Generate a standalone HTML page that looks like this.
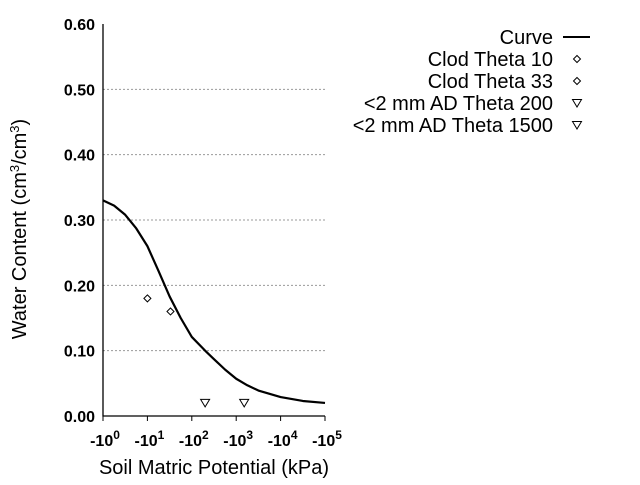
<!DOCTYPE html>
<html><head><meta charset="utf-8"><style>
body{margin:0;background:#fff;}
svg text{font-family:"Liberation Sans",Arial,sans-serif;fill:#000;}
</style></head><body>
<svg id="chart" width="640" height="480" xmlns="http://www.w3.org/2000/svg">
<g id="grid"></g>
<g id="axes"></g>
<g id="marks"></g>
<text transform="translate(26,229) rotate(-90)" text-anchor="middle" font-size="20">Water Content (cm<tspan baseline-shift="super" font-size="13">3</tspan>/cm<tspan baseline-shift="super" font-size="13">3</tspan>)</text>
<text x="214" y="474" text-anchor="middle" font-size="20">Soil Matric Potential (kPa)</text>
<g id="legend"></g>
</svg>
<script>
const yTicks=[0,0.1,0.2,0.3,0.4,0.5,0.6];
const yTickLabels=["0.00","0.10","0.20","0.30","0.40","0.50","0.60"];
const xTicks=[0,1,2,3,4,5];
const curveLogX=[0,0.25,0.5,0.75,1,1.25,1.5,1.75,2,2.3,2.5,2.75,3,3.25,3.5,4,4.5,5];
const curveY=[0.33,0.322,0.308,0.287,0.26,0.222,0.183,0.150,0.121,0.10,0.087,0.071,0.057,0.047,0.039,0.029,0.023,0.02];
const clodLogX=[1,1.52];
const clodY=[0.18,0.16];
const adLogX=[2.3,3.18];
const adY=[0.02,0.02];
const legendLabels=["Curve","Clod Theta 10","Clod Theta 33","<2 mm AD Theta 200","<2 mm AD Theta 1500"];
const X0=103,X1=325,Y0=416,Y1=24;
const sx=v=>X0+(v-0)/5*(X1-X0);
const sy=v=>Y0-(v/0.6)*(Y0-Y1);
const NS="http://www.w3.org/2000/svg";
function mk(t,a,p){const e=document.createElementNS(NS,t);for(const k in a)e.setAttribute(k,a[k]);p.appendChild(e);return e;}
const grid=document.getElementById('grid'),axes=document.getElementById('axes'),marks=document.getElementById('marks'),legend=document.getElementById('legend');
yTicks.forEach((v,i)=>{
  if(v>0&&v<0.6){const g=mk('line',{x1:X0,x2:X1,y1:sy(v),y2:sy(v),stroke:'#999','stroke-dasharray':'2,2','stroke-width':1},grid);
  
  }
  const t=mk('text',{x:X0-8,y:sy(v)+6,'text-anchor':'end','font-size':16,'font-weight':'bold'},axes);
  t.textContent=yTickLabels[i];
  
  
});
const ax=mk('path',{d:`M${X0},${Y1}V${Y0}H${X1}`,fill:'none',stroke:'#000','stroke-width':1.3},axes);


xTicks.forEach(v=>{
  mk('line',{x1:sx(v),x2:sx(v),y1:Y0,y2:Y0+5,stroke:'#000'},axes);
  const t=mk('text',{x:sx(v)+2,y:446,'text-anchor':'middle','font-size':16,'font-weight':'bold'},axes);
  t.innerHTML='-10<tspan baseline-shift="super" font-size="12">'+v+'</tspan>';
  
  
});
const c=mk('polyline',{points:curveLogX.map((v,i)=>sx(v)+','+sy(curveY[i])).join(' '),fill:'none',stroke:'#000','stroke-width':2.2,'stroke-linejoin':'round'},marks);


function diamond(x,y,p){return mk('path',{d:`M${x},${y-3.5}L${x+3.5},${y}L${x},${y+3.5}L${x-3.5},${y}Z`,fill:'#fff',stroke:'#000','stroke-width':1},p);}
function tri(x,y,p){return mk('path',{d:`M${x-4.5},${y-3.5}H${x+4.5}L${x},${y+4}Z`,fill:'#fff',stroke:'#000','stroke-width':1},p);}
clodLogX.forEach((v,i)=>{const d=diamond(sx(v),sy(clodY[i]),marks);
  
  });
adLogX.forEach((v,i)=>{const d=tri(sx(v),sy(adY[i]),marks);
  
  });
legendLabels.forEach((l,i)=>{
  const y=37+i*22;
  const t=mk('text',{x:553,y:y+7,'text-anchor':'end','font-size':20},legend);
  t.textContent=l;
  
  
  if(i==0)mk('line',{x1:563,x2:590,y1:y,y2:y,stroke:'#000','stroke-width':2},legend);
  else if(i<3)diamond(577,y,legend);
  else tri(577,y,legend);
});
</script>
</body></html>
